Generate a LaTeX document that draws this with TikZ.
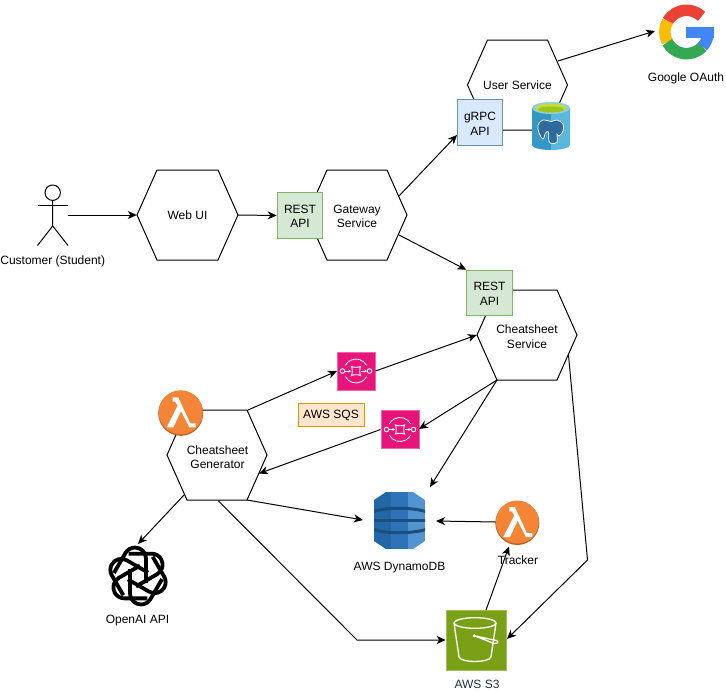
\documentclass[tikz,border=0pt]{standalone}
\usepackage{fontspec}
\setmainfont{Liberation Sans}
\usetikzlibrary{arrows.meta,shapes.geometric,calc}
\definecolor{tealdb}{HTML}{3797C4}
\definecolor{tealdbr}{HTML}{5BB8DD}
\definecolor{awspink}{HTML}{E7157B}
\definecolor{awsorange}{HTML}{F58536}
\definecolor{awsgreen}{HTML}{7AA116}
\definecolor{apigreenline}{HTML}{82B366}
\definecolor{apigreenfill}{HTML}{D5E8D4}
\definecolor{apiblueline}{HTML}{6C8EBF}
\definecolor{apibluefill}{HTML}{DAE8FC}
\definecolor{sqsline}{HTML}{D79B00}
\definecolor{sqsfill}{HTML}{FFE6CC}
\definecolor{HTMLdb1}{HTML}{2267A8}
\definecolor{HTMLdb2}{HTML}{2E73B8}
\definecolor{HTMLdb3}{HTML}{5294CF}
\definecolor{HTMLdbd}{HTML}{1A4F80}
\definecolor{s3text}{HTML}{232F3E}
\definecolor{pgg1}{HTML}{C3DC3E}
\definecolor{pgg2}{HTML}{9FC51C}
\definecolor{pgel}{HTML}{2F6A9E}
\definecolor{gred}{HTML}{EA4335}
\definecolor{gyel}{HTML}{FBBC05}
\definecolor{ggrn}{HTML}{34A853}
\definecolor{gblu}{HTML}{4285F4}
\tikzset{
  lbl/.style={inner sep=0pt,align=center,font=\fontsize{12}{14.5}\selectfont,text=black},
  txt/.style={lbl,yshift=-1pt},
  hexbox/.style={lbl,minimum width=#1,minimum height=90pt},
  api/.style={lbl,line width=1pt,minimum width=45.5pt,minimum height=45.5pt},
  apigreen/.style={api,draw=apigreenline,fill=apigreenfill},
  apiblue/.style={api,draw=apiblueline,fill=apibluefill},
  conn/.style={line width=1pt,draw=black,-{Stealth[length=9pt,width=8pt,inset=2.6pt]},line join=miter},
  hexline/.style={line width=1pt,draw=black,fill=white,line join=miter},
  sqsbox/.style={inner sep=0pt,minimum size=38pt,fill=awspink,draw=awspink!65!white,line width=1pt},
  lamcirc/.style={circle,inner sep=0pt,minimum size=44pt,fill=awsorange},
  wline/.style={draw=white,line width=1pt},
}
% hexagon: name, centre x, centre y (px, downward), half width, text
\newcommand{\hexnode}[5]{%
  \path[hexline] (#2-#4,-#3) -- (#2-#4+20,-#3+45) -- (#2+#4-20,-#3+45) -- (#2+#4,-#3) -- (#2+#4-20,-#3-45) -- (#2-#4+20,-#3-45) -- cycle;
  \node[hexbox=2*#4*1pt] (#1) at (#2,-#3) {#5};
  \coordinate (#1-ne) at (#2+#4-20,-#3+45);
  \coordinate (#1-nw) at (#2-#4+20,-#3+45);
  \coordinate (#1-se) at (#2+#4-20,-#3-45);
  \coordinate (#1-sw) at (#2-#4+20,-#3-45);
}
\newcommand{\sqsglyph}[2]{%
  \begin{scope}[shift={(#1,-#2)}]
    \draw[wline,line width=.8pt] (28:12) arc (28:152:12);
    \draw[wline,line width=.8pt] (208:12) arc (208:332:12);
    \draw[wline,line width=.9pt] (-13.5,0) circle (2.3);
    \draw[wline,line width=.9pt] (13.5,0) circle (2.3);
    \draw[wline,line width=.9pt] (-4.6,4.6) .. controls (-2,3.4) and (2,3.4) .. (4.6,4.6) .. controls (3.4,2) and (3.4,-2) .. (4.6,-4.6) .. controls (2,-3.4) and (-2,-3.4) .. (-4.6,-4.6) .. controls (-3.4,-2) and (-3.4,2) .. cycle;
    \draw[wline,line width=.9pt,-{Stealth[length=2.6pt,width=3pt]}] (-11,0) -- (-5,0);
    \draw[wline,line width=.9pt,-{Stealth[length=2.6pt,width=3pt]}] (5,0) -- (11,0);
  \end{scope}%
}
\newcommand{\lamglyph}[2]{%
  \fill[white,shift={(#1,-#2)}] (-8,15) -- (-2.5,15) -- (9.5,-11) -- (15,-11) -- (15,-15) -- (8.7,-15) -- (0.3,1.3) -- (-7.3,-15) -- (-14,-15) -- (-3,6.7) -- (-5.7,10.7) -- (-8,10.7) -- cycle;%
}
\begin{document}
\begin{tikzpicture}[x=1pt,y=1pt]
\useasboundingbox (0,0) rectangle (726,-691);
\fill[white] (0,0) rectangle (726,-691);

% hexagons
\hexnode{web}{187.5}{215}{50.5}{Web UI}
\hexnode{gw}{357}{215}{50}{}
\node[txt] (gwtext) at (357,-215.5) {Gateway\\Service};
\hexnode{usr}{517.5}{85}{50}{User Service}
\hexnode{cs}{527}{335}{50}{}
\node[txt] (cstext) at (527,-335.5) {Cheatsheet\\Service};
\hexnode{gen}{217}{455}{50}{}
\node[txt] (gentext) at (217.5,-456) {Cheatsheet\\Generator};

% actor
\node[inner sep=0pt,minimum width=31pt,minimum height=60pt] (actor) at (52.7,-215) {};
\draw[line width=1pt] (52.7,-192.7) circle (7.7);
\draw[line width=1pt] (52.7,-200.4) -- (52.7,-226) -- (37.5,-245.5);
\draw[line width=1pt] (52.7,-226) -- (68,-245.5);
\draw[line width=1pt] (37.5,-205) -- (67.7,-205);
\node[txt] (actorlbl) at (52.7,-260) {Customer (Student)};

% api boxes
\node[apigreen] (rest1) at (300,-215.5) {};
\node[txt] (rest1t) at (300,-215.5) {REST\\API};
\node[apiblue] (grpc) at (480,-122.5) {};
\node[txt] (grpct) at (480,-123) {gRPC\\API};
\node[apigreen] (rest2) at (489.5,-293) {};
\node[txt] (rest2t) at (489.5,-293) {REST\\API};
\node[lbl,draw=sqsline,fill=sqsfill,line width=1pt,minimum width=66pt,minimum height=23pt] (sqslabel) at (331,-414.5) {};
\node[txt] (sqstext) at (331,-414.5) {AWS SQS};

% SQS icons
\node[sqsbox] (sqsa) at (356,-371) {};
\sqsglyph{356}{371}
\node[sqsbox] (sqsb) at (400,-429.5) {};
\sqsglyph{400}{429.5}

% Lambda icons
\fill[black!25!awsorange] (180.7,-413.3) circle (22.5);
\node[lamcirc] (lama) at (180.7,-412.3) {};
\lamglyph{180.7}{412.3}
\fill[black!25!awsorange] (517.3,-523) circle (22);
\node[lamcirc,minimum size=43pt] (trk) at (517.3,-522) {};
\lamglyph{517.3}{522}
\node[txt] (trklbl) at (518,-559.5) {Tracker};

% DynamoDB
\node[inner sep=0pt,minimum width=51pt,minimum height=57pt] (ddb) at (399.5,-520.5) {};
\begin{scope}
  \clip (386,-492) -- (413,-492) -- (425,-500) -- (425,-541) -- (413,-549) -- (386,-549) -- (374,-541) -- (374,-500) -- cycle;
  \fill[HTMLdb1] (374,-492) rectangle (391,-549);
  \fill[HTMLdb2] (391,-492) rectangle (408,-549);
  \fill[HTMLdb3] (408,-492) rectangle (425,-549);
  \draw[HTMLdbd,line width=3pt] (372,-512) .. controls (385,-507) and (413,-507) .. (427,-512);
  \draw[HTMLdbd,line width=2.6pt] (372,-520.5) -- (427,-520.5);
  \draw[HTMLdbd,line width=3pt] (372,-529) .. controls (385,-534) and (413,-534) .. (427,-529);
\end{scope}
\node[txt] (ddblbl) at (399.5,-567) {AWS DynamoDB};

% S3
\node[inner sep=0pt,minimum size=60pt,fill=awsgreen,draw=awsgreen!70!white,line width=.6pt] (s3) at (476,-640) {};
\begin{scope}[line width=1.3pt]
  \draw[white] (475,-623) ellipse (21 and 5.3);
  \draw[white] (454,-623) -- (459,-657) .. controls (461,-663) and (489,-663) .. (491,-657) -- (496,-623);
  \draw[white] (474.3,-635.7) -- (494,-643.5) .. controls (499,-644) and (499,-640) .. (494,-640) -- (474.3,-635.7);
  \fill[white] (474.3,-635.7) circle (1.7);
\end{scope}
\node[lbl,text=s3text] (s3lbl) at (477,-684) {AWS S3};

% Postgres
\node[inner sep=0pt,minimum width=38pt,minimum height=48pt] (pg) at (551,-126) {};
\fill[tealdb] (532,-108) -- (551,-108) -- (551,-150) arc (270:180:19 and 5) -- cycle;
\fill[tealdbr] (570,-108) -- (551,-108) -- (551,-150) arc (270:360:19 and 5) -- cycle;
\fill[tealdbr!70!white] (551,-108) ellipse (19 and 6);
\fill[pgg1] (551,-108) ellipse (15.5 and 4.6);
\fill[pgg2] (551,-109.5) ellipse (13 and 3);
\draw[white,line width=.7pt,fill=pgel] plot[smooth cycle,tension=.6] coordinates {(538,-125) (543,-120) (551,-121.5) (557,-120) (563,-124) (563,-131) (559,-136) (557,-134) (557,-142) (552,-143.5) (549,-141) (548.5,-132) (545.5,-133) (543,-139) (539,-133)};

% Google
\node[inner sep=0pt,minimum size=55pt] (goog) at (686.5,-32) {};
\begin{scope}[shift={(686.5,-32)},line width=11.5pt]
  \draw[gred] (150:21.7) arc (150:46:21.7);
  \draw[gyel] (208:21.7) arc (208:150:21.7);
  \draw[ggrn] (317:21.7) arc (317:208:21.7);
  \draw[gblu] (0:21.7) arc (0:-43:21.7);
  \fill[gblu] (-0.5,5) rectangle (27.5,-5.5);
\end{scope}
\node[txt] (googlbl) at (686,-77) {Google OAuth};

% OpenAI
\node[inner sep=0pt,minimum width=58pt,minimum height=62pt] (oai) at (138,-576) {};
\foreach \a in {0,60,...,300}{
  \begin{scope}[shift={(138,-576)},rotate=\a]
    \draw[line width=3.8pt,line cap=butt,line join=round] (8,-7) -- (8,17.5) arc (0:150:11) -- ++(240:23);
  \end{scope}
}
\node[txt] (oailbl) at (137.5,-619.5) {OpenAI API};

% free connector ends
\coordinate (gwa) at (399,-196);
\coordinate (gwb) at (399,-235);
\coordinate (grpcin) at (457,-135);
\coordinate (usrout) at (558,-61);
\coordinate (googin) at (655,-31);
\coordinate (genup) at (248,-410);
\coordinate (sqsain) at (337,-371);
\coordinate (sqsbin) at (419,-429);
\coordinate (genin) at (259,-473.5);
\coordinate (ddbin1) at (430,-487);
\coordinate (ddbin2) at (363,-520);
\coordinate (ddbin3) at (436,-521);
\coordinate (genoai) at (184.5,-494.5);
\coordinate (oaiin) at (138,-544);
\coordinate (gens3) at (218,-500.5);
\coordinate (bend1) at (357,-640);
\coordinate (csout) at (568.5,-355);
\coordinate (bend2) at (587.5,-560);
\coordinate (s3east) at (507,-639);
\coordinate (s3top) at (486,-610);
\coordinate (trkin) at (509,-546.5);

% connectors
\draw[conn] (68,-215) -- (web.west);
\draw[conn] (web.east) -- (rest1.west);
\draw[conn] (gwa) -- (grpcin);
\draw[conn] (gwb) -- (rest2.north west);
\draw[conn] (usrout) -- (googin);
\draw[conn] (genup) -- (sqsain);
\draw[conn] (sqsa.east) -- (cs.west);
\draw[conn] (cs-sw) -- (sqsbin);
\draw[conn] (sqsb.west) -- (genin);
\draw[conn] (cs-sw) -- (ddbin1);
\draw[conn] (gen-se) -- (ddbin2);
\draw[conn] (trk.west) -- (ddbin3);
\draw[conn] (genoai) -- (oaiin);
\draw[conn] (gens3) -- (bend1) -- (s3.west);
\draw[conn] (csout) -- (bend2) -- (s3east);
\draw[conn] (s3top) -- (trkin);
\end{tikzpicture}
\end{document}
